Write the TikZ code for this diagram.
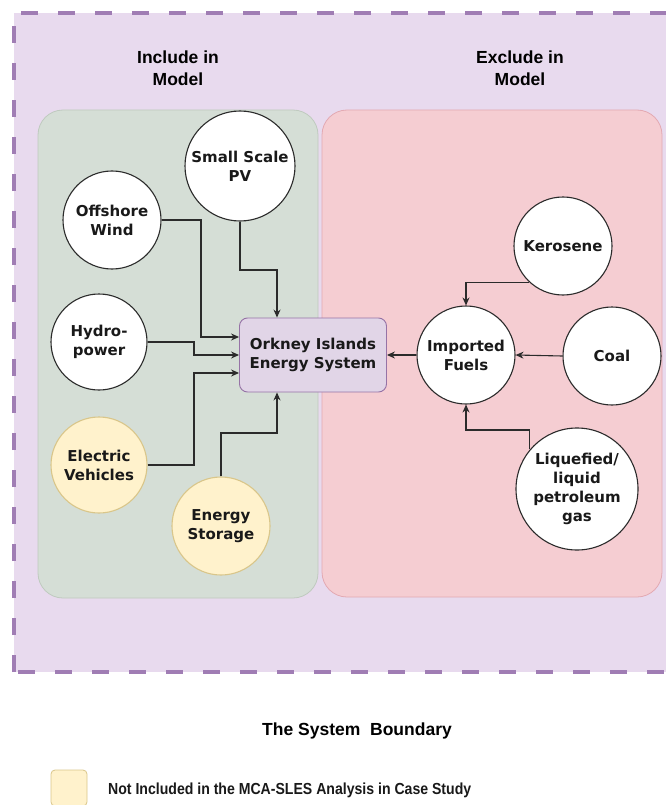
\documentclass[tikz,border=0pt]{standalone}
\usepackage{fontspec}
\usetikzlibrary{arrows.meta}
\newfontfamily\circfont{DejaVu Sans}
\newfontfamily\headfont{Liberation Sans}
\newfontfamily\narrowfont[FakeStretch=0.88]{Liberation Sans}
\definecolor{boundfill}{HTML}{E8DAEE}
\definecolor{boundline}{HTML}{A07DB4}
\definecolor{inclfill}{HTML}{D5DED6}
\definecolor{incldraw}{HTML}{BFCABF}
\definecolor{exclfill}{HTML}{F5CDD2}
\definecolor{excldraw}{HTML}{E3A9B2}
\definecolor{sysfill}{HTML}{E1D5E7}
\definecolor{sysdraw}{HTML}{9673A6}
\definecolor{evfill}{HTML}{FFF2CC}
\definecolor{evdraw}{HTML}{D9C68A}
\definecolor{linkcol}{HTML}{2B2B2B}
\tikzset{
  source/.style={circle, draw=linkcol, line width=1.1pt, fill=white,
                 inner sep=0pt, minimum size=98pt, align=center, text=black!90,
                 font=\circfont\bfseries\fontsize{15}{19}\selectfont},
  extsource/.style={source, fill=evfill, draw=evdraw},
  sysbox/.style={draw=sysdraw, fill=sysfill, line width=0.9pt, rounded corners=8pt,
                 minimum width=147pt, minimum height=74pt, align=center, text=black!90,
                 font=\circfont\bfseries\fontsize{15}{19.5}\selectfont},
  heading/.style={align=center, font=\headfont\bfseries\fontsize{17.5}{22}\selectfont},
  flow/.style={draw=linkcol, line width=1.1pt, -{Stealth[length=8pt,width=7pt]}},
}
\begin{document}
\begin{tikzpicture}[x=1pt, y=-1pt]
    \useasboundingbox (0,0) rectangle (665,805);
    % system boundary
    \fill[boundfill] (14,13) rectangle (680,672);
    \draw[boundline, line width=4pt, dash pattern=on 17pt off 20pt]
      (14,672) -- (14,13) -- (680,13);
    \draw[boundline, line width=4pt, dash pattern=on 17pt off 20pt]
      (18,672) -- (680,672);
    % include / exclude areas
    \draw[incldraw, fill=inclfill, line width=0.8pt, rounded corners=25pt] (38,110) rectangle (318,598);
    \draw[excldraw, fill=exclfill, line width=0.8pt, rounded corners=25pt] (322,110) rectangle (662,597);
    \node[heading] (inclhead) at (178,68.5) {Include in\\Model};
    \node[heading] (exclhead) at (520,68.5) {Exclude in\\Model};
    % nodes
    \node[sysbox] (ork) at (313,355) {Orkney Islands\\Energy System};
    \node[source, minimum size=110pt] (pv) at (240,166) {Small Scale\\PV};
    \node[source] (off) at (112,220) {Offshore\\Wind};
    \node[source, minimum size=96pt] (hyd) at (99,342) {Hydro-\\power};
    \node[extsource, minimum size=96pt] (ev) at (99,465) {Electric\\Vehicles};
    \node[extsource] (sto) at (221,526) {Energy\\Storage};
    \node[source] (imp) at (466,355) {Imported\\Fuels};
    \node[source] (ker) at (563,246) {Kerosene};
    \node[source] (coal) at (612,356) {Coal};
    \node[source, minimum size=122pt] (lpg) at (577,489) {Liquefied/\\liquid\\petroleum\\gas};
    % connectors
    \draw[flow] (off.east) -| (201,337) -- ([yshift=18pt]ork.west);
    \draw[flow] (hyd.east) -| (194,355) -- (ork.west);
    \draw[flow] (ev.east) -| (194,373) -- ([yshift=-18pt]ork.west);
    \draw[flow] (pv.south) |- (277,270) -- ([xshift=-36pt]ork.north);
    \draw[flow] (sto.north) |- (277,433) -- ([xshift=-36pt]ork.south);
    \draw[flow] (imp.west) -- (ork.east);
    \draw[flow] (ker.227) -| (imp.north);
    \draw[flow] (coal.west) -- (imp.east);
    \draw[flow] (lpg.140) |- (466,430) -- (imp.south);
    % caption and legend
    \node[heading, anchor=base] (boundary) at (357,735) {The System\ \ Boundary};
    \draw[evdraw, fill=evfill, line width=0.8pt, rounded corners=4pt] (51,770) rectangle (87,806);
    \node[anchor=base west, inner sep=0pt, text=black!90, font=\narrowfont\bfseries\fontsize{16}{19}\selectfont] (legend) at (108,794)
      {Not Included in the MCA-SLES Analysis in Case Study};
  \end{tikzpicture}
\end{document}
